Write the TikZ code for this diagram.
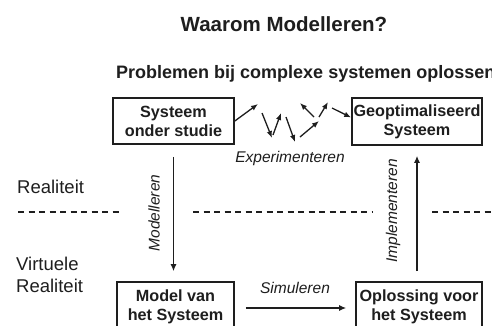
\documentclass[tikz,border=0pt]{standalone}
\usepackage{fontspec}
\setmainfont{Liberation Sans}
\usetikzlibrary{arrows.meta}
\definecolor{ink}{HTML}{1E1E1E}
\begin{document}
\begin{tikzpicture}[x=1pt,y=1pt,
  box/.style={draw=ink,line width=1.6pt,inner sep=0pt,align=center,
    font=\bfseries\fontsize{16.2}{19}\selectfont,text=ink},
  lab/.style={inner sep=0pt,font=\itshape\fontsize{15.5}{18}\selectfont,text=ink},
  side/.style={inner sep=0pt,font=\fontsize{18.5}{22}\selectfont,text=ink,align=left},
  arr/.style={draw=ink,line width=1.3pt,-{Latex[length=7pt,width=6pt]}},
  sarr/.style={draw=ink,line width=1.3pt,-{Latex[length=7pt,width=5.5pt]}},
  dashline/.style={draw=ink,line width=1.1pt,dash pattern=on 6pt off 4.5pt}]
\useasboundingbox (0,0) rectangle (492,-325);
\fill[white] (0,0) rectangle (492,-325);

\node[anchor=base,inner sep=0pt,font=\bfseries\fontsize{20.5}{24}\selectfont,text=ink] (title) at (284,-31) {Waarom Modelleren?};
\node[anchor=base west,inner sep=0pt,font=\bfseries\fontsize{18}{21}\selectfont,text=ink] (sub) at (116,-78) {Problemen bij complexe systemen oplossen};

\node[box,minimum width=121pt,minimum height=46pt] (sys) at (173.5,-121) {Systeem\\onder studie};
\node[box,minimum width=130pt,minimum height=47pt] (geo) at (417,-121.5) {Geoptimaliseerd\\Systeem};
\node[box,minimum width=117pt,minimum height=50pt] (mod) at (175.5,-307) {Model van\\het Systeem};
\node[box,minimum width=126pt,minimum height=50pt] (opl) at (419,-307) {Oplossing voor\\het Systeem};

\node[side,anchor=west] (real) at (17,-187) {Realiteit};
\node[side,anchor=west] (virt) at (16,-275) {Virtuele\\Realiteit};

\node[lab] (exp) at (290,-158) {Experimenteren};
\node[lab,rotate=90] (modl) at (154,-213) {Modelleren};
\node[lab,rotate=90] (impl) at (393,-211) {Implementeren};
\node[lab] (sim) at (295,-288) {Simuleren};

\draw[arr,shorten <=12pt,shorten >=10pt] (sys.south) -- (sys.south |- mod.north);
\draw[arr,shorten <=10pt,shorten >=10pt] (geo.south |- opl.north) -- (geo.south);
\draw[arr,shorten <=11pt,shorten >=9pt] ([yshift=-1pt]mod.east) -- ([yshift=-1pt]opl.west);

\coordinate (d1a) at (18,-212); \coordinate (d1b) at (123,-212);
\coordinate (d2a) at (193,-212); \coordinate (d2b) at (373,-212);
\coordinate (d3a) at (432,-212); \coordinate (d3b) at (495,-212);
\draw[dashline] (d1a) -- (d1b);
\draw[dashline] (d2a) -- (d2b);
\draw[dashline] (d3a) -- (d3b);

\coordinate (e1) at (258,-104);
\coordinate (e2a) at (262,-113); \coordinate (e2b) at (272,-138);
\coordinate (e3a) at (273,-135); \coordinate (e3b) at (281,-113);
\coordinate (e4a) at (286,-117); \coordinate (e4b) at (295,-142);
\coordinate (e5a) at (300,-137); \coordinate (e5b) at (319,-121);
\coordinate (e6a) at (314,-117); \coordinate (e6b) at (300,-103);
\coordinate (e7a) at (319,-117); \coordinate (e7b) at (328,-102);
\coordinate (e8a) at (332,-108);
\draw[sarr] (sys.east) -- (e1);
\draw[sarr] (e2a) -- (e2b);
\draw[sarr] (e3a) -- (e3b);
\draw[sarr] (e4a) -- (e4b);
\draw[sarr] (e5a) -- (e5b);
\draw[sarr] (e6a) -- (e6b);
\draw[sarr] (e7a) -- (e7b);
\draw[sarr] (e8a) -- ([yshift=4pt]geo.west);
\end{tikzpicture}
\end{document}
